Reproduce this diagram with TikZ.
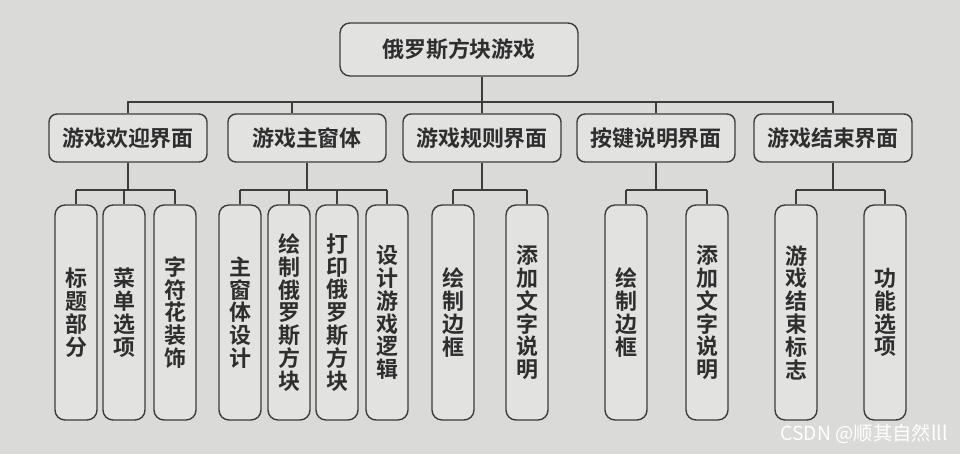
\documentclass[tikz,border=0pt]{standalone}
\usepackage{fontspec}
\newfontfamily\cjk{Noto Sans CJK SC}[BoldFont={Noto Sans CJK SC Bold}]
\usetikzlibrary{positioning}
\definecolor{PaperGray}{HTML}{DADAD8}
\definecolor{BoxFill}{HTML}{E2E2E0}
\definecolor{InkDark}{HTML}{3C3C3C}
\definecolor{TextDark}{HTML}{2E2E2E}

\tikzset{
  wire/.style={InkDark, line width=0.7pt},
  rootbox/.style={draw=InkDark, fill=BoxFill, line width=0.8pt, rounded corners=0.2cm,
    minimum width=4.76cm, minimum height=1.06cm, text=TextDark,
    font=\cjk\bfseries\fontsize{12.5}{13}\selectfont},
  partbox/.style={rootbox, rounded corners=0.16cm, minimum width=3.16cm, minimum height=0.96cm},
  leafbox/.style={rootbox, rounded corners=0.2cm, minimum width=0.84cm, minimum height=4.3cm,
    inner sep=0pt, align=center}
}

\begin{document}
\begin{tikzpicture}[x=0.02cm, y=-0.02cm]
  \fill[PaperGray] (0,0) rectangle (960,454);
  \useasboundingbox (0,0) rectangle (960,454);

  % top and second level
  \node[rootbox] (root) at (459,49.5) {俄罗斯方块游戏};
  \foreach \n/\x/\t in {welcome/128/游戏欢迎界面, mainwin/307/游戏主窗体, rules/482/游戏规则界面,
                        keys/656/按键说明界面, over/833/游戏结束界面}{
    \node[partbox] (\n) at (\x,138) {\t};
  }

  % leaves
  \foreach \n/\x/\t in {w1/76/{标\\题\\部\\分}, w2/124/{菜\\单\\选\\项}, w3/175/{字\\符\\花\\装\\饰},
                        m1/240/{主\\窗\\体\\设\\计}, m2/289/{绘\\制\\俄\\罗\\斯\\方\\块},
                        m3/337/{打\\印\\俄\\罗\\斯\\方\\块}, m4/387/{设\\计\\游\\戏\\逻\\辑},
                        r1/453/{绘\\制\\边\\框}, r2/527/{添\\加\\文\\字\\说\\明},
                        k1/626/{绘\\制\\边\\框}, k2/707/{添\\加\\文\\字\\说\\明},
                        o1/796/{游\\戏\\结\\束\\标\\志}, o2/885/{功\\能\\选\\项}}{
    \node[leafbox] (\n) at (\x,312.5) {\t};
  }

  % connectors
  \coordinate (bus) at (0,102);
  \coordinate (sub) at (0,190);
  \draw[wire] (root.south -| rules.north) -- (rules.north);
  \draw[wire] (welcome.north) -- (welcome.north |- bus) -- (over.north |- bus) -- (over.north);
  \draw[wire] ([xshift=-0.3cm]mainwin.north |- bus) -- ([xshift=-0.3cm]mainwin.north);
  \draw[wire] (keys.north |- bus) -- (keys.north);

  \foreach \p/\a/\b/\kids in {welcome/w1/w3/{w1,w2,w3}, mainwin/m1/m4/{m1,m2,m3,m4},
                              rules/r1/r2/{r1,r2}, keys/k1/k2/{k1,k2}, over/o1/o2/{o1,o2}}{
    \draw[wire] (\p.south) -- (\p.south |- sub);
    \draw[wire] (\a.north |- sub) -- (\b.north |- sub);
    \foreach \c in \kids
      \draw[wire] (\c.north |- sub) -- (\c.north);
  }

  \node[font=\cjk\fontsize{11}{12}\selectfont, text=white] (mark) at (864,434) {CSDN @顺其自然lll};
\end{tikzpicture}
\end{document}
